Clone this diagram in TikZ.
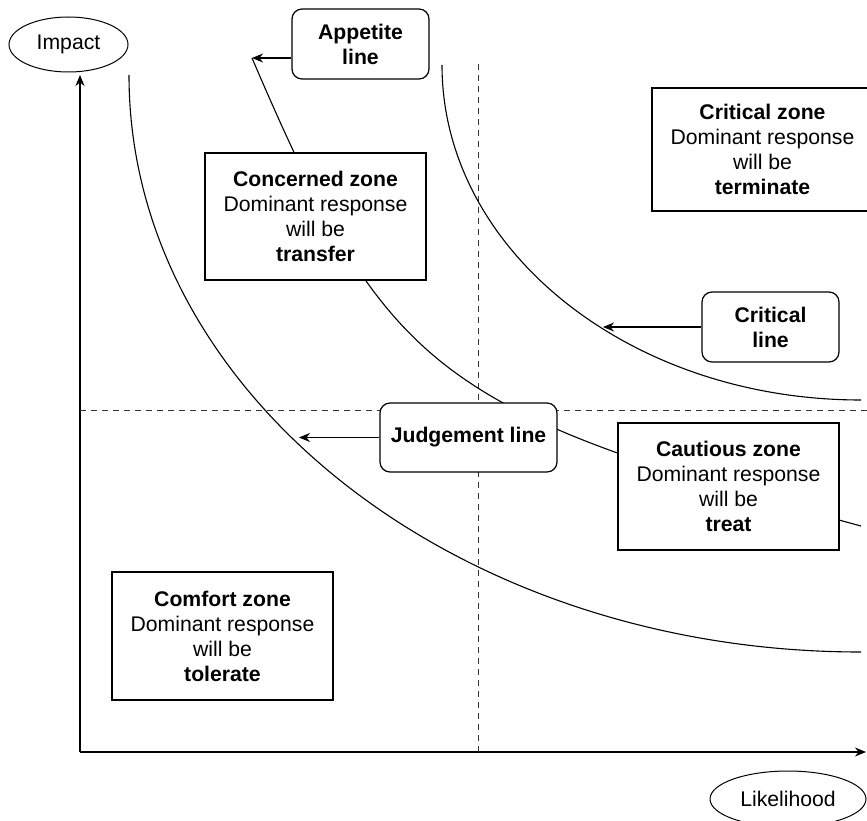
\documentclass[tikz,border=0pt]{standalone}
\usepackage{fontspec}
\setmainfont{Liberation Sans}
\usetikzlibrary{shapes.geometric,arrows.meta}
\begin{document}
\begin{tikzpicture}[x=1pt,y=-1pt,
  every node/.style={font=\fontsize{21.2}{25}\selectfont, text=black, inner sep=0pt, align=center},
  zone/.style={draw, line width=1.2pt, fill=white, minimum width=221pt, minimum height=127pt},
  tag/.style={draw, line width=1.2pt, fill=white, rounded corners=10pt,
              font=\fontsize{21.2}{25}\selectfont\bfseries},
  axislabel/.style={draw, ellipse, line width=1pt},
  curve/.style={line width=1.1pt},
  guide/.style={line width=1pt, black!80, dash pattern=on 6pt off 5pt},
  arr/.style={line width=1.1pt, -{Stealth[length=11pt,width=9pt,inset=3.5pt]}},
]
\useasboundingbox (0,0) rectangle (867,821);

% axes
\coordinate (origin) at (80,752);
\coordinate (ytip) at (80,75);
\coordinate (xtip) at (866,752);
\draw[arr] (origin) -- (ytip);
\draw[arr] (origin) -- (xtip);

% quadrant guides
\coordinate (vtop) at (478,64);
\coordinate (vbot) at (478,752);
\coordinate (hleft) at (80,410);
\coordinate (hright) at (867,410);
\draw[guide] (vtop) -- (vbot);
\draw[guide] (hleft) -- (hright);

% judgement line (lowest curve)
\draw[curve] (129,75) arc[start angle=180, end angle=90, x radius=732, y radius=577];
% critical line (upper curve)
\draw[curve] (442,65) arc[start angle=180, end angle=90, x radius=419, y radius=335];
% appetite line
\coordinate (appstart) at (252,58);
\draw[curve] (appstart) .. controls (387,373) and (436,411) .. (861,526);

% axis labels
\node[axislabel, minimum width=119pt, minimum height=55pt] (impact) at (68.5,44.5) {Impact};
\node[axislabel, minimum width=156pt, minimum height=56pt] (likelihood) at (788,799) {Likelihood};

% zones
\node[zone] (concerned) at (315.5,216.5)
  {\textbf{Concerned zone}\\Dominant response\\will be\\\textbf{transfer}};
\node[zone, minimum height=123pt] (critzone) at (762.5,149.5)
  {\textbf{Critical zone}\\Dominant response\\will be\\\textbf{terminate}};
\node[zone] (cautious) at (728.5,486.5)
  {\textbf{Cautious zone}\\Dominant response\\will be\\\textbf{treat}};
\node[zone, minimum height=128pt] (comfort) at (222.5,636)
  {\textbf{Comfort zone}\\Dominant response\\will be\\\textbf{tolerate}};

% line labels
\node[tag, minimum width=137pt, minimum height=70pt] (appetite) at (360.5,44) {Appetite\\line};
\node[tag, minimum width=137pt, minimum height=70pt] (critline) at (770.5,327) {Critical\\line};
\node[tag, minimum width=177pt, minimum height=69pt] (judge) at (468.5,437.5) {Judgement line};

% pointers to the curves
\coordinate (crittip) at (603,327);
\coordinate (judgetip) at (299,437.5);
\draw[arr] (appetite.west |- appstart) -- (appstart);
\draw[arr] (critline.west) -- (crittip);
\draw[arr] (judge.west) -- (judgetip);
\end{tikzpicture}
\end{document}
